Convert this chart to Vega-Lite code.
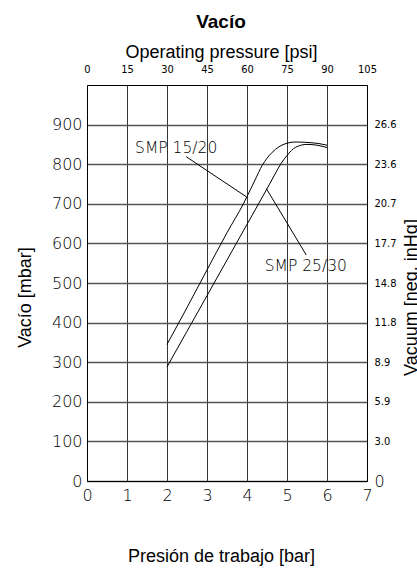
{
  "$schema": "https://vega.github.io/schema/vega-lite/v6.json",
  "autosize": {"type": "none"},
  "width": 280,
  "height": 396,
  "padding": {"left": 87, "top": 85, "right": 50, "bottom": 88},
  "background": "white",
  "title": {
    "text": "Vacío",
    "font": "Liberation Sans",
    "fontSize": 19,
    "fontWeight": "bold",
    "color": "black",
    "anchor": "middle",
    "frame": "group",
    "dx": -6,
    "baseline": "alphabetic",
    "offset": -4
  },
  "datasets": {
    "curves": [
      {"series": "SMP 15/20", "bar": 2.0, "mbar": 345},
      {"series": "SMP 15/20", "bar": 2.5, "mbar": 438},
      {"series": "SMP 15/20", "bar": 3.0, "mbar": 533},
      {"series": "SMP 15/20", "bar": 3.5, "mbar": 627},
      {"series": "SMP 15/20", "bar": 3.91, "mbar": 700},
      {"series": "SMP 15/20", "bar": 4.2, "mbar": 760},
      {"series": "SMP 15/20", "bar": 4.38, "mbar": 797},
      {"series": "SMP 15/20", "bar": 4.5, "mbar": 815},
      {"series": "SMP 15/20", "bar": 4.63, "mbar": 830},
      {"series": "SMP 15/20", "bar": 4.8, "mbar": 844},
      {"series": "SMP 15/20", "bar": 5.0, "mbar": 853},
      {"series": "SMP 15/20", "bar": 5.2, "mbar": 856},
      {"series": "SMP 15/20", "bar": 5.5, "mbar": 855},
      {"series": "SMP 15/20", "bar": 5.8, "mbar": 852},
      {"series": "SMP 15/20", "bar": 6.0, "mbar": 848},
      {"series": "SMP 25/30", "bar": 2.0, "mbar": 288},
      {"series": "SMP 25/30", "bar": 2.5, "mbar": 378},
      {"series": "SMP 25/30", "bar": 3.0, "mbar": 468},
      {"series": "SMP 25/30", "bar": 3.5, "mbar": 558},
      {"series": "SMP 25/30", "bar": 4.0, "mbar": 648},
      {"series": "SMP 25/30", "bar": 4.3, "mbar": 702},
      {"series": "SMP 25/30", "bar": 4.5, "mbar": 738},
      {"series": "SMP 25/30", "bar": 4.7, "mbar": 775},
      {"series": "SMP 25/30", "bar": 4.84, "mbar": 800},
      {"series": "SMP 25/30", "bar": 5.0, "mbar": 822},
      {"series": "SMP 25/30", "bar": 5.22, "mbar": 843},
      {"series": "SMP 25/30", "bar": 5.5, "mbar": 850},
      {"series": "SMP 25/30", "bar": 5.75, "mbar": 848},
      {"series": "SMP 25/30", "bar": 6.0, "mbar": 842}
    ],
    "labels": [
      {"label": "SMP 15/20", "bar": 2.23, "mbar": 841},
      {"label": "SMP 25/30", "bar": 5.47, "mbar": 543}
    ],
    "leaders": [
      {"label": "SMP 15/20", "bar": 2.48, "mbar": 819, "bar2": 3.98, "mbar2": 718},
      {"label": "SMP 25/30", "bar": 4.48, "mbar": 739, "bar2": 5.48, "mbar2": 571}
    ]
  },
  "resolve": {"axis": {"x": "independent", "y": "independent"}},
  "layer": [
    {
      "data": {"name": "curves"},
      "mark": {"type": "line", "color": "black", "strokeWidth": 1, "interpolate": "monotone"},
      "encoding": {
        "x": {
          "field": "bar", "type": "quantitative",
          "scale": {"domain": [0, 7], "nice": false, "zero": false},
          "axis": {
            "orient": "bottom",
            "values": [0, 1, 2, 3, 4, 5, 6, 7],
            "title": "Presión de trabajo [bar]",
            "titleX": 134, "titleY": 80, "titleBaseline": "alphabetic", "titleAlign": "center",
            "labelFont": "DejaVu Sans", "labelFontSize": 16, "labelFontWeight": 200,
            "labelPadding": 6,
            "grid": true, "gridColor": "#333333", "gridWidth": 1
          }
        },
        "y": {
          "field": "mbar", "type": "quantitative",
          "scale": {"domain": [0, 1000], "nice": false, "zero": false},
          "axis": {
            "orient": "left",
            "values": [0, 100, 200, 300, 400, 500, 600, 700, 800, 900],
            "title": "Vacío [mbar]",
            "titleX": -57, "titleY": 212, "titleAngle": 270, "titleBaseline": "alphabetic", "titleAlign": "center",
            "labelFont": "DejaVu Sans", "labelFontSize": 16, "labelFontWeight": 200,
            "labelPadding": 5,
            "grid": true, "gridColor": "#555555", "gridWidth": 1.3
          }
        },
        "detail": {"field": "series"}
      }
    },
    {
      "data": {"name": "labels"},
      "mark": {"type": "text", "font": "DejaVu Sans", "fontSize": 15.5, "fontWeight": 200, "color": "black", "align": "center", "baseline": "middle"},
      "encoding": {
        "x": {
          "field": "bar", "type": "quantitative",
          "axis": {
            "orient": "top",
            "values": [0, 1, 2, 3, 4, 5, 6, 7],
            "labelExpr": "format(datum.value * 15, 'd')",
            "title": "Operating pressure [psi]",
            "titleX": 134, "titleY": -28, "titleBaseline": "alphabetic", "titleAlign": "center",
            "labelFont": "DejaVu Sans Condensed", "labelFontSize": 11,
            "labelBaseline": "alphabetic",
            "labelPadding": 13,
            "grid": false
          }
        },
        "y": {
          "field": "mbar", "type": "quantitative",
          "axis": {
            "orient": "right",
            "values": [0, 100, 200, 300, 400, 500, 600, 700, 800, 900],
            "labelExpr": "datum.value == 0 ? '0' : format(datum.value * 0.02953, '.1f')",
            "title": "Vacuum [neg. inHg]",
            "titleX": 49, "titleY": 212, "titleAngle": 270, "titleBaseline": "alphabetic", "titleAlign": "center",
            "labelFont": {"condition": {"test": "datum.value == 0", "value": "DejaVu Sans"}, "value": "DejaVu Sans Condensed"},
            "labelFontWeight": {"condition": {"test": "datum.value == 0", "value": 200}, "value": "normal"},
            "labelFontSize": {"condition": {"test": "datum.value == 0", "value": 16}, "value": 11},
            "labelPadding": 7,
            "grid": false
          }
        },
        "text": {"field": "label"}
      }
    },
    {
      "data": {"name": "leaders"},
      "mark": {"type": "rule", "color": "black", "strokeWidth": 1},
      "encoding": {
        "x": {"field": "bar", "type": "quantitative", "axis": null},
        "y": {"field": "mbar", "type": "quantitative", "axis": null},
        "x2": {"field": "bar2"},
        "y2": {"field": "mbar2"}
      }
    }
  ],
  "config": {
    "view": {"stroke": null},
    "axis": {
      "ticks": false,
      "labelFlush": false,
      "labelOverlap": false,
      "labelColor": "black",
      "domainColor": "black",
      "domainWidth": 1,
      "titleFont": "Liberation Sans",
      "titleFontSize": 18,
      "titleFontWeight": "normal",
      "titleColor": "black"
    }
  }
}
